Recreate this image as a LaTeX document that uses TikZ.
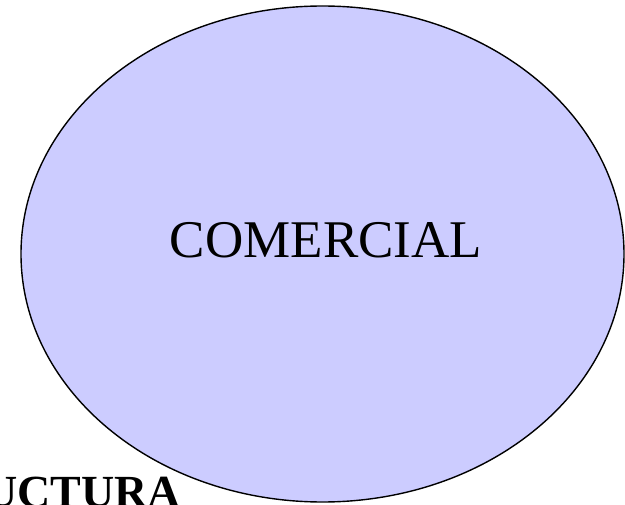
\documentclass[tikz,border=0pt]{standalone}
\usepackage{fontspec}
\setmainfont{Liberation Serif}
\usepackage{tikz}
\usetikzlibrary{positioning}
\usepackage{xcolor}
\definecolor{lilac}{HTML}{CCCCFF}

\begin{document}
\begin{tikzpicture}[x=1pt, y=-1pt]
    \useasboundingbox (0,0) rectangle (625,505);
    \clip (0,0) rectangle (625,505);

    \filldraw[fill=lilac, draw=black, line width=1.4pt] (322.5,254) ellipse [x radius=301.5, y radius=248];
    \node[anchor=base, inner sep=0pt, font=\fontsize{53}{60}\selectfont] (comercial) at (326,258) {COMERCIAL};
    \node[anchor=base east, inner sep=0pt, font=\fontsize{46}{52}\selectfont\bfseries] (estructura) at (181,508) {UCTURA};
\end{tikzpicture}
\end{document}
